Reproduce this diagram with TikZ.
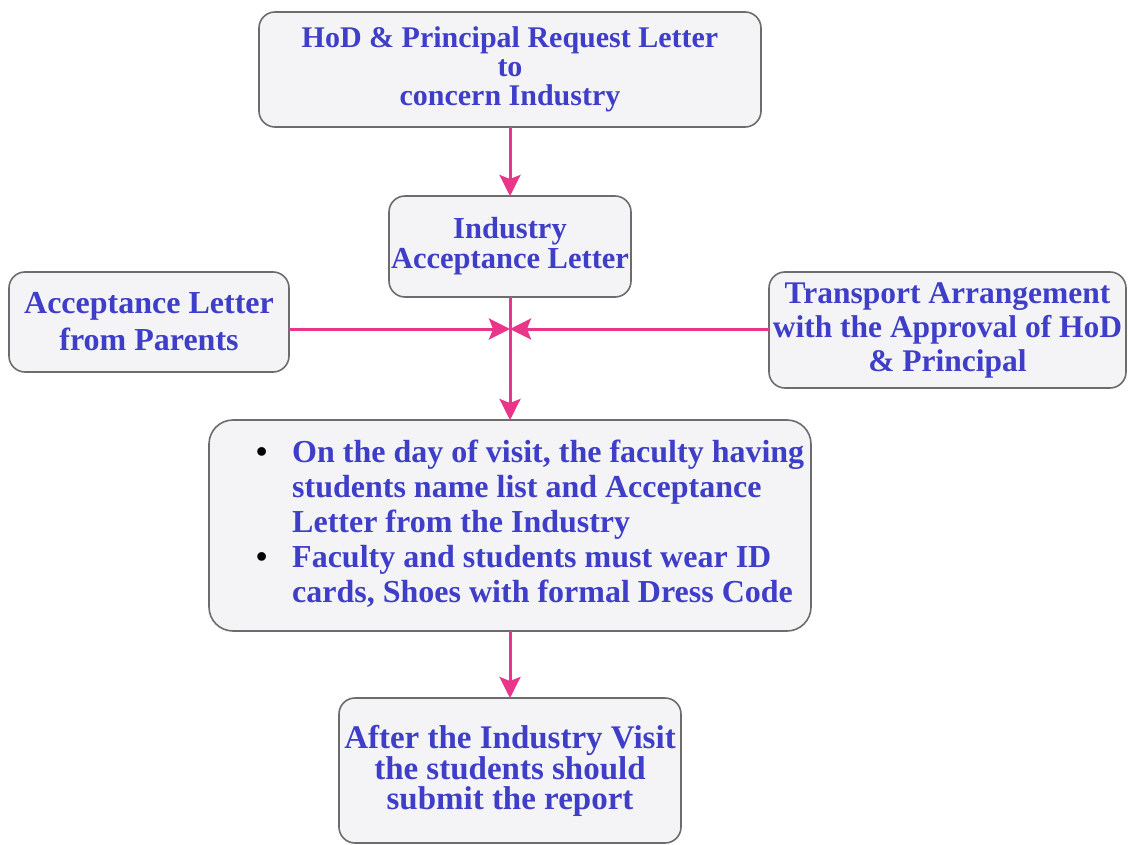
\documentclass[tikz,border=0pt]{standalone}
\usepackage{fontspec}
\setmainfont{Liberation Serif}
\usetikzlibrary{arrows.meta}
\definecolor{boxfill}{RGB}{244,244,246}
\definecolor{boxline}{RGB}{108,108,108}
\definecolor{txtblue}{RGB}{62,62,200}
\definecolor{flowpink}{RGB}{234,54,138}
\tikzset{
  stepbox/.style={draw=boxline, fill=boxfill, line width=1.6pt, rounded corners=16pt,
    inner sep=0pt, outer sep=0pt, align=center, text=txtblue},
  txt/.style 2 args={font=\fontsize{#1}{#2}\selectfont\bfseries},
  flow/.style={draw=flowpink, line width=3pt,
    -{Stealth[length=21pt,width=21pt,inset=4pt,fill=flowpink]}},
}
\begin{document}
\begin{tikzpicture}[x=1pt,y=-1pt]
\useasboundingbox (0,0) rectangle (1130,845);
\fill[white] (0,0) rectangle (1130,845);

\node[stepbox, txt={30}{29}, minimum width=502pt, minimum height=115pt] (req) at (510,69.5)
  {HoD \& Principal Request Letter\\to\\concern Industry};
\node[stepbox, txt={30.5}{30}, minimum width=242pt, minimum height=101pt] (ind) at (510,246.5)
  {Industry\\Acceptance Letter};
\node[stepbox, txt={32}{37}, minimum width=280pt, minimum height=100pt] (par) at (149,322)
  {Acceptance Letter\\from Parents};
\node[stepbox, txt={31.5}{34}, minimum width=357pt, minimum height=116pt] (trans) at (947.5,330)
  {Transport Arrangement\\with the Approval of HoD\\\& Principal};
\node[stepbox, txt={32}{35}, rounded corners=24pt, minimum height=211pt] (visit) at (510,525.5)
  {\makebox[602pt][l]{\hspace*{47pt}\begin{tabular}{@{}l@{\hspace{25pt}}l@{}}
   {\color{black}\textbullet} & On the day of visit, the faculty having\\
   & students name list and Acceptance\\
   & Letter from the Industry\\
   {\color{black}\textbullet} & Faculty and students must wear ID\\
   & cards, Shoes with formal Dress Code
   \end{tabular}}};
\node[stepbox, txt={33}{30}, minimum width=342pt, minimum height=145pt] (rep) at (510,770.5)
  {After the Industry Visit\\the students should\\submit the report};

\coordinate (J) at (510,329);

\draw[flow] (req.south) -- (ind.north);
\draw[flow] (ind.south) -- (visit.north);
\draw[flow] (par.east |- J) -- (J);
\draw[flow] (trans.west |- J) -- (J);
\draw[flow] (visit.south) -- (rep.north);
\end{tikzpicture}
\end{document}
